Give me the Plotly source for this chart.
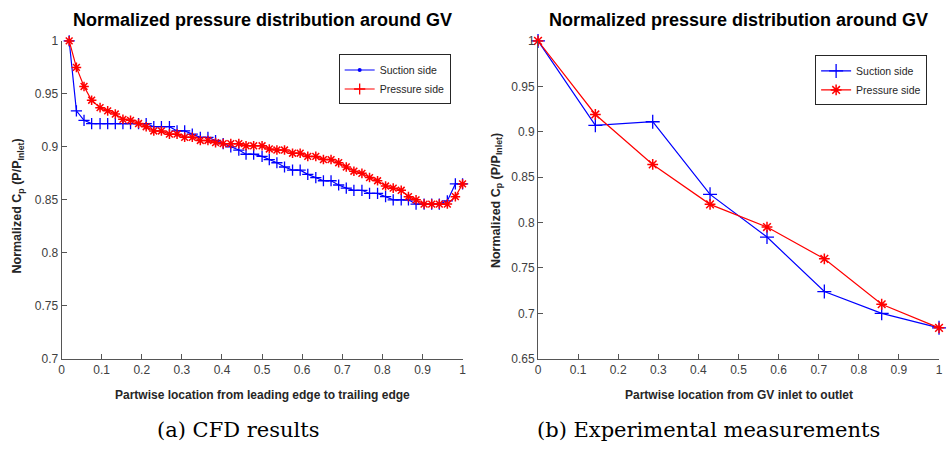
import plotly.graph_objects as go

# ---- (a) CFD results: normalized Cp along the guide vane ----
cfd_x = [0.019, 0.037, 0.056, 0.075, 0.096, 0.115, 0.134, 0.153, 0.172, 0.192,
         0.211, 0.230, 0.249, 0.269, 0.288, 0.307, 0.326, 0.346, 0.365, 0.384,
         0.403, 0.422, 0.442, 0.460, 0.479, 0.500, 0.518, 0.537, 0.556, 0.576,
         0.595, 0.614, 0.634, 0.653, 0.672, 0.691, 0.710, 0.729, 0.749, 0.768,
         0.788, 0.808, 0.827, 0.847, 0.865, 0.884, 0.904, 0.923, 0.942, 0.962,
         0.982, 1.000]
cfd_suction = [1.000, 0.934, 0.925, 0.922, 0.922, 0.922, 0.922, 0.922, 0.922, 0.922,
               0.922, 0.919, 0.919, 0.919, 0.915, 0.915, 0.912, 0.909, 0.909, 0.906,
               0.903, 0.900, 0.897, 0.893, 0.893, 0.891, 0.888, 0.885, 0.881, 0.878,
               0.878, 0.874, 0.871, 0.868, 0.868, 0.864, 0.861, 0.859, 0.859, 0.856,
               0.856, 0.853, 0.850, 0.850, 0.850, 0.846, 0.846, 0.846, 0.846, 0.849,
               0.865, 0.865]
cfd_pressure = [1.000, 0.975, 0.957, 0.944, 0.937, 0.934, 0.931, 0.926, 0.925, 0.922,
                0.919, 0.915, 0.915, 0.912, 0.912, 0.909, 0.909, 0.906, 0.906, 0.904,
                0.903, 0.903, 0.903, 0.901, 0.901, 0.901, 0.898, 0.897, 0.897, 0.894,
                0.894, 0.891, 0.891, 0.888, 0.888, 0.885, 0.881, 0.877, 0.875, 0.871,
                0.868, 0.863, 0.861, 0.859, 0.853, 0.850, 0.846, 0.846, 0.846, 0.846,
                0.853, 0.865]

# ---- (b) Experimental measurements ----
exp_x = [0.0, 0.143, 0.286, 0.429, 0.571, 0.714, 0.857, 1.0]
exp_suction = [1.000, 0.907, 0.911, 0.831, 0.784, 0.724, 0.700, 0.684]
exp_pressure = [1.000, 0.919, 0.864, 0.820, 0.795, 0.760, 0.710, 0.684]

x_ticks = [0, 0.1, 0.2, 0.3, 0.4, 0.5, 0.6, 0.7, 0.8, 0.9, 1]
x_ticktext = ["0", "0.1", "0.2", "0.3", "0.4", "0.5", "0.6", "0.7", "0.8", "0.9", "1"]
ya_ticks = [0.7, 0.75, 0.8, 0.85, 0.9, 0.95, 1]
ya_ticktext = ["0.7", "0.75", "0.8", "0.85", "0.9", "0.95", "1"]
yb_ticks = [0.65, 0.7, 0.75, 0.8, 0.85, 0.9, 0.95, 1]
yb_ticktext = ["0.65", "0.7", "0.75", "0.8", "0.85", "0.9", "0.95", "1"]

TITLE = "Normalized pressure distribution around GV"
YTITLE = "Normalized C<sub>p</sub> (P/P<sub>Inlet</sub>)"
BLUE = "#0000ff"
RED = "#ff0000"
W, H = 947, 451

fig = go.Figure()

plus = dict(symbol="cross-thin-open", size=8, line=dict(width=1.3))
star = dict(symbol="asterisk-open", size=8, line=dict(width=1.5))

# CFD curves (left)
fig.add_trace(go.Scatter(x=cfd_x, y=cfd_suction, mode="lines+markers", showlegend=False,
                         line=dict(color=BLUE, width=1.2),
                         marker=dict(color=BLUE, **plus), cliponaxis=False,
                         xaxis="x", yaxis="y"))
fig.add_trace(go.Scatter(x=cfd_x, y=cfd_pressure, mode="lines+markers", showlegend=False,
                         line=dict(color=RED, width=1.2),
                         marker=dict(color=RED, **star), cliponaxis=False,
                         xaxis="x", yaxis="y"))
# legend entries of the CFD panel
fig.add_trace(go.Scatter(x=[None], y=[None], mode="lines+markers", name="Suction side",
                         line=dict(color=BLUE, width=1.2),
                         marker=dict(color=BLUE, symbol="circle", size=4),
                         xaxis="x", yaxis="y", legend="legend"))
fig.add_trace(go.Scatter(x=[None], y=[None], mode="lines+markers", name="Pressure side",
                         line=dict(color=RED, width=1.2),
                         marker=dict(color=RED, **plus),
                         xaxis="x", yaxis="y", legend="legend"))

# Experimental curves (right)
fig.add_trace(go.Scatter(x=exp_x, y=exp_suction, mode="lines+markers", name="Suction side",
                         line=dict(color=BLUE, width=1.2),
                         marker=dict(color=BLUE, symbol="cross-thin-open", size=10, line=dict(width=1.3)),
                         cliponaxis=False, xaxis="x2", yaxis="y2", legend="legend2"))
fig.add_trace(go.Scatter(x=exp_x, y=exp_pressure, mode="lines+markers", name="Pressure side",
                         line=dict(color=RED, width=1.2),
                         marker=dict(color=RED, symbol="asterisk-open", size=9, line=dict(width=1.5)),
                         cliponaxis=False, xaxis="x2", yaxis="y2", legend="legend2"))

AXCOL = "#555555"
TICKFONT = dict(family="Liberation Sans, Arial, sans-serif", size=12, color="#404040")
common_axis = dict(showgrid=False, zeroline=False, showline=True, linecolor=AXCOL, linewidth=1,
                   ticks="inside", ticklen=5, tickcolor=AXCOL, tickfont=TICKFONT, mirror=False)

y_top = 1 - 35 / H
y_bot = 1 - 363 / H

LEGFONT = dict(family="Liberation Sans, Arial, sans-serif", size=10.5, color="#262626")

fig.update_layout(
    width=W, height=H,
    margin=dict(l=0, r=0, t=0, b=0),
    paper_bgcolor="white", plot_bgcolor="white",
    xaxis=dict(domain=[59 / W, 463 / W], range=[0, 1], tickvals=x_ticks, ticktext=x_ticktext,
               anchor="y", **common_axis),
    yaxis=dict(domain=[y_bot, y_top], range=[0.7, 1], tickvals=ya_ticks, ticktext=ya_ticktext,
               anchor="x", **common_axis),
    xaxis2=dict(domain=[539 / W, 943 / W], range=[0, 1], tickvals=x_ticks, ticktext=x_ticktext,
                anchor="y2", **common_axis),
    yaxis2=dict(domain=[y_bot, y_top], range=[0.65, 1], tickvals=yb_ticks, ticktext=yb_ticktext,
                anchor="x2", **common_axis),
    legend=dict(x=451 / W, xanchor="right", y=1 - 49 / H, yanchor="top",
                bgcolor="white", bordercolor="#262626", borderwidth=1,
                font=LEGFONT, tracegroupgap=0, itemwidth=30),
    legend2=dict(x=931 / W, xanchor="right", y=1 - 50 / H, yanchor="top",
                 bgcolor="white", bordercolor="#262626", borderwidth=1,
                 font=LEGFONT, tracegroupgap=0, itemwidth=30),
)

TFONT = dict(family="Liberation Sans, Arial, sans-serif", size=18, color="black")
XLFONT = dict(family="Liberation Sans, Arial, sans-serif", size=12, color="#262626")
YLFONT = dict(family="Liberation Sans, Arial, sans-serif", size=12.5, color="#262626")
CFONT = dict(family="DejaVu Serif, Liberation Serif, serif", size=21, color="black")

annotations = [
    # panel titles
    dict(x=261 / W, y=1 - 13 / H, text="<b>%s</b>" % TITLE, font=TFONT),
    dict(x=741 / W, y=1 - 13 / H, text="<b>%s</b>" % TITLE, font=TFONT),
    # axis titles
    dict(x=261 / W, y=1 - 400 / H, text="<b>Partwise location from leading edge to trailing edge</b>", font=XLFONT),
    dict(x=741 / W, y=1 - 400 / H, text="<b>Partwise location from GV inlet to outlet</b>", font=XLFONT),
    dict(x=15 / W, y=1 - 205 / H, text="<b>%s</b>" % YTITLE, textangle=-90, font=YLFONT),
    dict(x=497 / W, y=1 - 200 / H, text="<b>%s</b>" % YTITLE, textangle=-90, font=YLFONT),
    # sub-captions
    dict(x=237 / W, y=1 - 437 / H, text="(a) CFD results", font=CFONT),
    dict(x=711 / W, y=1 - 437 / H, text="(b) Experimental measurements", font=CFONT),
]
for a in annotations:
    a.update(xref="paper", yref="paper", showarrow=False, xanchor="center", yanchor="middle")
fig.update_layout(annotations=annotations)

fig.write_html("out.html")
